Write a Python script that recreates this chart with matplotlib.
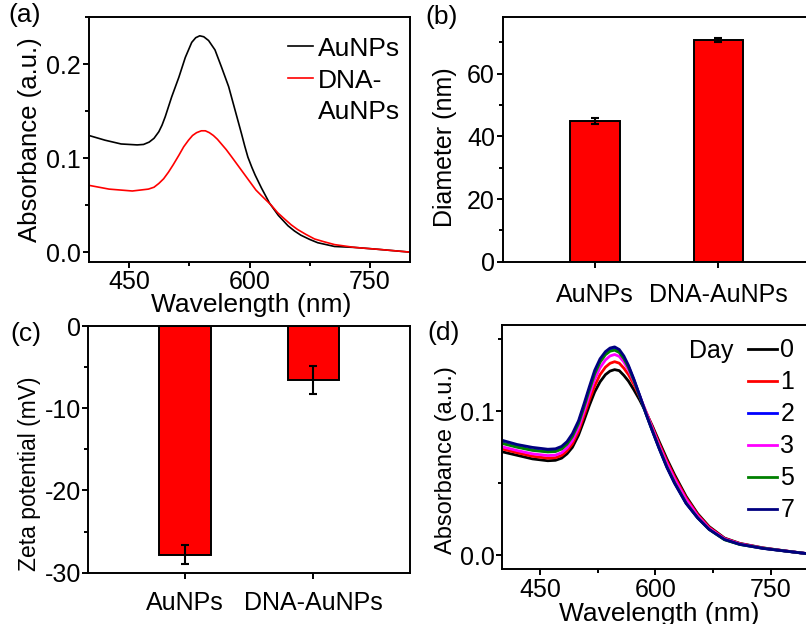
import matplotlib
matplotlib.use("Agg")
import matplotlib.pyplot as plt
from matplotlib.lines import Line2D
from matplotlib.ticker import MultipleLocator, FormatStrFormatter

plt.rcParams["font.family"] = ["Liberation Sans", "DejaVu Sans"]
plt.rcParams["axes.unicode_minus"] = False
plt.rcParams["axes.linewidth"] = 1.4

# (a) UV-vis spectra
WL_A_BLACK = [400, 420, 440, 460, 468, 475, 481, 487, 491, 495, 503, 512, 520, 528, 533,
              538, 543, 549, 557, 565, 574, 582, 590, 594, 598, 603, 607, 611, 615, 625,
              636, 648, 656, 664, 675, 685, 706, 731, 760, 800]
ABS_AUNP = [0.124, 0.119, 0.115, 0.114, 0.1145, 0.117, 0.121, 0.128, 0.135, 0.144, 0.165,
            0.186, 0.207, 0.223, 0.228, 0.230, 0.229, 0.225, 0.215, 0.197, 0.176, 0.151,
            0.126, 0.113, 0.101, 0.090, 0.082, 0.075, 0.068, 0.052, 0.039, 0.028, 0.0225,
            0.018, 0.0135, 0.010, 0.006, 0.005, 0.003, 0.0]
WL_A_RED = [400, 425, 454, 474, 481, 487, 493, 499, 505, 512, 518, 524, 529, 534, 540,
            545, 550, 555, 560, 565, 571, 578, 584, 590, 596, 602, 608, 615, 621, 627,
            635, 644, 652, 660, 670, 681, 693, 706, 731, 760, 800]
ABS_DNA = [0.071, 0.067, 0.065, 0.067, 0.069, 0.073, 0.078, 0.085, 0.093, 0.103, 0.112,
           0.119, 0.124, 0.127, 0.129, 0.129, 0.127, 0.124, 0.120, 0.115, 0.109, 0.101,
           0.094, 0.087, 0.080, 0.073, 0.066, 0.060, 0.055, 0.050, 0.042, 0.035, 0.029,
           0.024, 0.019, 0.014, 0.011, 0.008, 0.005, 0.003, 0.0]

# (b) hydrodynamic diameter and (c) zeta potential
SAMPLES = ["AuNPs", "DNA-AuNPs"]
DIAMETER = [44.8, 70.8]
DIAMETER_ERR = [1.0, 0.7]
ZETA = [-27.8, -6.6]
ZETA_ERR = [1.2, 1.7]

# (d) stability over days
WL_D = [400, 420, 440, 460, 470, 478, 485, 492, 500, 507, 514, 521, 528, 535, 541, 547,
        553, 559, 565, 572, 580, 588, 596, 605, 615, 625, 640, 655, 670, 690, 710, 740,
        770, 800]
DAYS = ["0", "1", "2", "3", "5", "7"]
DAY_COLORS = ["#000000", "#ff0000", "#0000ff", "#ff00ff", "#008000", "#000080"]
ABS_DAY0 = [0.072, 0.0695, 0.067, 0.0657, 0.0660, 0.0675, 0.0705, 0.0750, 0.0835, 0.0935,
            0.1040, 0.1135, 0.1205, 0.1255, 0.1280, 0.1290, 0.1283, 0.1250, 0.1210, 0.1150,
            0.1075, 0.0990, 0.0900, 0.0790, 0.0670, 0.0560, 0.0410, 0.0290, 0.0200, 0.0120,
            0.0083, 0.0052, 0.0030, 0.0010]
ABS_DAY1 = [0.074, 0.0713, 0.0688, 0.0675, 0.0678, 0.0694, 0.0726, 0.0774, 0.0862, 0.0968,
            0.1077, 0.1177, 0.1255, 0.1307, 0.1334, 0.1345, 0.1335, 0.1300, 0.1255, 0.1188,
            0.1097, 0.0995, 0.0892, 0.0776, 0.0655, 0.0545, 0.0400, 0.0283, 0.0195, 0.0117,
            0.0081, 0.0051, 0.0030, 0.0010]
ABS_DAY2 = [0.0782, 0.0755, 0.0733, 0.0722, 0.0725, 0.0742, 0.0776, 0.0829, 0.0920, 0.1034,
            0.1153, 0.1268, 0.1350, 0.1402, 0.1428, 0.1435, 0.1418, 0.1374, 0.1312, 0.1220,
            0.1103, 0.0982, 0.0868, 0.0744, 0.0615, 0.0505, 0.0364, 0.0262, 0.0181, 0.0111,
            0.0077, 0.0049, 0.0029, 0.0010]
ABS_DAY3 = [0.0755, 0.0728, 0.0705, 0.0693, 0.0696, 0.0713, 0.0746, 0.0797, 0.0886, 0.0996,
            0.1112, 0.1222, 0.1303, 0.1357, 0.1385, 0.1395, 0.1382, 0.1343, 0.1288, 0.1208,
            0.1103, 0.0993, 0.0883, 0.0762, 0.0640, 0.0530, 0.0388, 0.0274, 0.0188, 0.0114,
            0.0079, 0.0050, 0.0030, 0.0010]
ABS_DAY5 = [0.0778, 0.0751, 0.0729, 0.0718, 0.0721, 0.0738, 0.0772, 0.0825, 0.0915, 0.1028,
            0.1146, 0.1260, 0.1341, 0.1393, 0.1418, 0.1425, 0.1409, 0.1366, 0.1305, 0.1215,
            0.1100, 0.0981, 0.0868, 0.0745, 0.0616, 0.0506, 0.0364, 0.0261, 0.0180, 0.0108,
            0.0075, 0.0049, 0.0029, 0.0010]
ABS_DAY7 = [0.080, 0.077, 0.075, 0.0737, 0.0740, 0.0757, 0.0790, 0.0845, 0.0935, 0.1050,
            0.1170, 0.1285, 0.1365, 0.1415, 0.1440, 0.1448, 0.1430, 0.1385, 0.1320, 0.1225,
            0.1105, 0.0980, 0.0865, 0.0740, 0.0610, 0.0500, 0.0360, 0.0260, 0.0180, 0.0110,
            0.0076, 0.0048, 0.0029, 0.0010]
ABS_DAYS = [ABS_DAY0, ABS_DAY1, ABS_DAY2, ABS_DAY3, ABS_DAY5, ABS_DAY7]

TICK_FS = 18
LABEL_FS = 19


def style_axes(ax, xpad, ypad):
    ax.tick_params(which="both", direction="out", top=False, right=False,
                   width=1.4, labelsize=TICK_FS)
    ax.tick_params(which="major", length=4)
    ax.tick_params(which="minor", length=3)
    ax.tick_params(axis="x", pad=xpad)
    ax.tick_params(axis="y", pad=ypad)


fig = plt.figure(figsize=(8.06, 6.24), dpi=100)
W, H = 806, 624


def add_axes(l, t, r, b):
    return fig.add_axes([l / W, 1 - b / H, (r - l) / W, (b - t) / H])


# ---- (a)
ax = add_axes(89, 17, 410, 262)
ax.plot(WL_A_BLACK, ABS_AUNP, color="black", lw=1.2)
ax.plot(WL_A_RED, ABS_DNA, color="red", lw=1.2)
ax.set_xlim(400, 800)
ax.set_ylim(-0.0105, 0.25)
ax.set_xticks([450, 600, 750])
ax.xaxis.set_minor_locator(MultipleLocator(75))
ax.yaxis.set_major_locator(MultipleLocator(0.1))
ax.yaxis.set_minor_locator(MultipleLocator(0.05))
ax.yaxis.set_major_formatter(FormatStrFormatter("%.1f"))
style_axes(ax, 1.5, 2)
ax.set_xlabel("Wavelength (nm)", fontsize=LABEL_FS)
ax.set_ylabel("Absorbance (a.u.)", fontsize=18.5)
ax.xaxis.set_label_coords(0.505, -0.125)
ax.yaxis.set_label_coords(-0.147, 0.5)
handles = [Line2D([], [], color="black", lw=1.2),
           Line2D([], [], color="red", lw=1.2),
           Line2D([], [], color="none")]
ax.legend(handles, ["AuNPs", "DNA-", "AuNPs"], loc="upper left",
          bbox_to_anchor=(0.62, 0.92), frameon=False, fontsize=LABEL_FS,
          borderpad=0, borderaxespad=0, handlelength=0.95, handletextpad=0.2,
          labelspacing=0.3)

# ---- (b)
ax = add_axes(502.7, 17.3, 810.6, 261.7)
ax.bar([1, 2], DIAMETER, width=0.4, color="#ff0000", edgecolor="black", lw=1.4,
       yerr=DIAMETER_ERR, capsize=3,
       error_kw=dict(ecolor="black", elinewidth=1.5, capthick=1.5))
ax.set_xlim(0.25, 2.75)
ax.set_ylim(0, 78)
ax.set_xticks([1, 2])
ax.set_xticklabels(SAMPLES)
ax.yaxis.set_major_locator(MultipleLocator(20))
ax.yaxis.set_minor_locator(MultipleLocator(10))
style_axes(ax, 11.5, 1.5)
ax.set_ylabel("Diameter (nm)", fontsize=18)
ax.yaxis.set_label_coords(-0.15, 0.467)

# ---- (c)
ax = add_axes(88.3, 326, 410, 572.7)
ax.bar([1, 2], ZETA, width=0.4, color="#ff0000", edgecolor="black", lw=1.4,
       yerr=ZETA_ERR, capsize=3,
       error_kw=dict(ecolor="black", elinewidth=1.5, capthick=1.5))
ax.set_xlim(0.25, 2.75)
ax.set_ylim(-30, 0)
ax.set_xticks([1, 2])
ax.set_xticklabels(SAMPLES)
ax.yaxis.set_major_locator(MultipleLocator(10))
ax.yaxis.set_minor_locator(MultipleLocator(5))
style_axes(ax, 9.5, 1)
ax.set_ylabel("Zeta potential (mV)", fontsize=16.5)
ax.yaxis.set_label_coords(-0.147, 0.40)

# ---- (d)
ax = add_axes(501.7, 325, 809, 569)
for day, color, values in zip(DAYS, DAY_COLORS, ABS_DAYS):
    ax.plot(WL_D, values, color=color, lw=2.0, label=day)
ax.set_xlim(400, 800)
ax.set_ylim(-0.0095, 0.16)
ax.set_xticks([450, 600, 750])
ax.xaxis.set_minor_locator(MultipleLocator(75))
ax.yaxis.set_major_locator(MultipleLocator(0.1))
ax.yaxis.set_minor_locator(MultipleLocator(0.05))
ax.yaxis.set_major_formatter(FormatStrFormatter("%.1f"))
style_axes(ax, 2.5, 1)
ax.set_xlabel("Wavelength (nm)", fontsize=LABEL_FS)
ax.set_ylabel("Absorbance (a.u.)", fontsize=17)
ax.xaxis.set_label_coords(0.512, -0.134)
ax.yaxis.set_label_coords(-0.147, 0.447)
ax.legend(loc="upper left", bbox_to_anchor=(0.801, 0.945), frameon=False,
          fontsize=TICK_FS, borderpad=0, borderaxespad=0, handlelength=1.15,
          handletextpad=0.15, labelspacing=0.32)
ax.text(0.753, 0.865, "Day", transform=ax.transAxes, ha="right", va="baseline",
        fontsize=TICK_FS)

# panel letters
for label, x, y in [("(a)", 8, 3), ("(b)", 425, 5), ("(c)", 10, 322), ("(d)", 427, 321)]:
    fig.text(x / W, 1 - y / H, label, ha="left", va="top", fontsize=LABEL_FS)

fig.savefig("out.png", dpi=100)
